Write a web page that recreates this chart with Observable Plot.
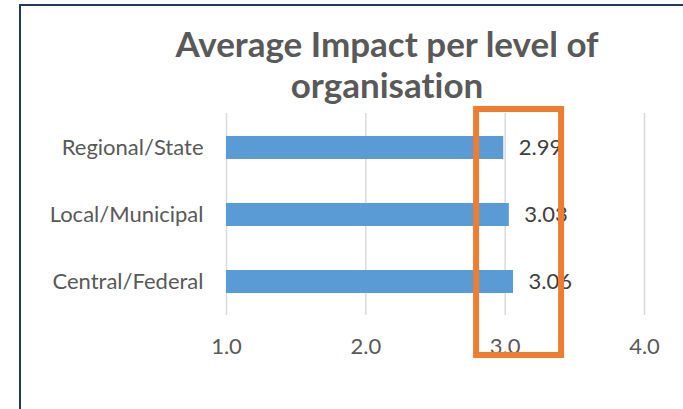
<!DOCTYPE html>
<html><head><meta charset="utf-8">
<script src="https://cdn.jsdelivr.net/npm/d3@7"></script>
<script src="https://cdn.jsdelivr.net/npm/@observablehq/plot@0.6"></script>
<style>
body{margin:0;background:#fff;}
#frame{position:absolute;left:19px;top:4px;width:664px;height:405px;border-top:2px solid #1f3864;border-left:2px solid #1f3864;box-sizing:border-box;background:#fff;}
#title{height:100px;box-sizing:border-box;padding-top:17px;padding-left:70px;text-align:center;font-family:Lato;font-weight:bold;font-size:35px;color:#595959;line-height:41px;font-variant-ligatures:none;font-feature-settings:"liga" 0;white-space:nowrap;}
#chart svg{overflow:visible;display:block;font-variant-ligatures:none;}
</style></head><body>
<div id="frame"><div id="title">Average Impact per level of<br>organisation</div><div id="chart"></div></div>
<script>
const levels = ["Regional/State", "Local/Municipal", "Central/Federal"];
const impacts = [2.99, 3.03, 3.06];
const xTicks = [1, 2, 3, 4];
const highlightRange = [2.795, 3.405];

const data = levels.map((level, i) => ({level, value: impacts[i]}));

function highlightBox(index, scales, values, dimensions) {
  const x1 = scales.x(highlightRange[0]), x2 = scales.x(highlightRange[1]);
  const y1 = dimensions.marginTop - 4;
  const y2 = dimensions.height - dimensions.marginBottom + 40;
  const g = d3.create("svg:g");
  g.append("rect").attr("x", x1).attr("y", y1).attr("width", x2 - x1).attr("height", y2 - y1)
    .attr("fill", "none").attr("stroke", "#ed7d31").attr("stroke-width", 6);
  return g.node();
}

const plot = Plot.plot({
  width: 662, height: 303,
  marginLeft: 205, marginRight: 39, marginTop: 7, marginBottom: 94,
  style: {fontFamily: "Lato", fontSize: "22px", background: "white"},
  x: {domain: [1, 4]},
  y: {domain: levels, paddingInner: 0.66, paddingOuter: 0.33},
  marks: [
    Plot.ruleX(xTicks, {stroke: "#d9d9d9", strokeWidth: 1.5}),
    Plot.barX(data, {x1: 1, x2: "value", y: "level", fill: "#5b9bd5"}),
    Plot.text(data, {x: "value", y: "level", text: d => d.value.toFixed(2), dx: 15, textAnchor: "start", fill: "#404040", fontSize: 22}),
    Plot.axisX(xTicks, {tickSize: 0, tickPadding: 23, tickFormat: d3.format(".1f"), fill: "#595959", fontSize: 22, label: null}),
    Plot.axisY({tickSize: 0, tickPadding: 23, fill: "#595959", fontSize: 22, label: null}),
    highlightBox
  ]
});
document.getElementById("chart").appendChild(plot);
</script>
</body></html>
